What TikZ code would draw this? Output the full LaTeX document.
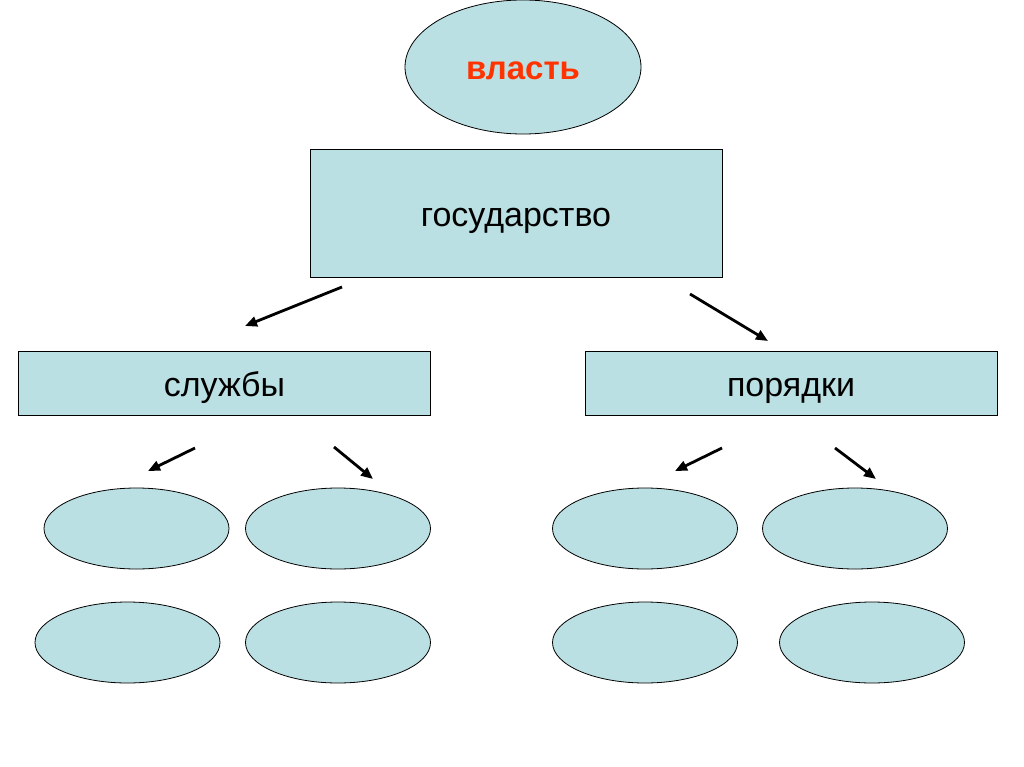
\documentclass[tikz,border=0pt]{standalone}
\usepackage{fontspec}
\setmainfont{Liberation Sans}
\usetikzlibrary{shapes.geometric,arrows.meta}
\definecolor{paleblue}{HTML}{BBE0E3}
\definecolor{redtext}{HTML}{FF3300}
\tikzset{
LABEL/.style ={font=\fontsize{34}{38}\selectfont,text height=27pt,text depth=1pt},
BOX/.style ={draw=black,line width=0.8pt,fill=paleblue,rectangle,minimum width=412pt,minimum height=64pt,inner sep=0pt,LABEL},
OVAL/.style ={draw=black,line width=0.8pt,fill=paleblue,ellipse,minimum width=185pt,minimum height=81pt,inner sep=0pt},
ARR/.style ={draw=black,line width=2.8pt,-{Triangle[length=12pt,width=10pt]}},
}
\begin{document}
\begin{tikzpicture} [x=1pt, y=-1pt] %schema
	\useasboundingbox[fill=white] (0,0) rectangle (1024,767);
	\node[OVAL,minimum width=236pt,minimum height=134pt,LABEL,font=\bfseries\fontsize{33}{37}\selectfont,text=redtext] (power) at (523,67) {власть};
	\node[BOX,minimum height=128pt] (state) at (516,213) {государство};
	\node[BOX] (services) at (224.5,383) {службы};
	\node[BOX] (orders) at (791,383) {порядки};
	% ovals
	\node[OVAL] (s1) at (136.5,528.5) {};
	\node[OVAL] (s2) at (338,528.5) {};
	\node[OVAL] (s3) at (127.5,642.5) {};
	\node[OVAL] (s4) at (338,642.5) {};
	\node[OVAL] (o1) at (645,528.5) {};
	\node[OVAL] (o2) at (855,528.5) {};
	\node[OVAL] (o3) at (645,642.5) {};
	\node[OVAL] (o4) at (872,642.5) {};
	% arrows
	\coordinate (a1) at (342,287); \coordinate (b1) at (245,326);
	\coordinate (a2) at (690,294); \coordinate (b2) at (768,341);
	\coordinate (a3) at (195,448); \coordinate (b3) at (148,471);
	\coordinate (a4) at (334,447); \coordinate (b4) at (373,479);
	\coordinate (a5) at (722,448); \coordinate (b5) at (675,471);
	\coordinate (a6) at (835,448); \coordinate (b6) at (876,479);
	\path[ARR] (a1) -- (b1);
	\path[ARR] (a2) -- (b2);
	\path[ARR] (a3) -- (b3);
	\path[ARR] (a4) -- (b4);
	\path[ARR] (a5) -- (b5);
	\path[ARR] (a6) -- (b6);
\end{tikzpicture}
\end{document}
